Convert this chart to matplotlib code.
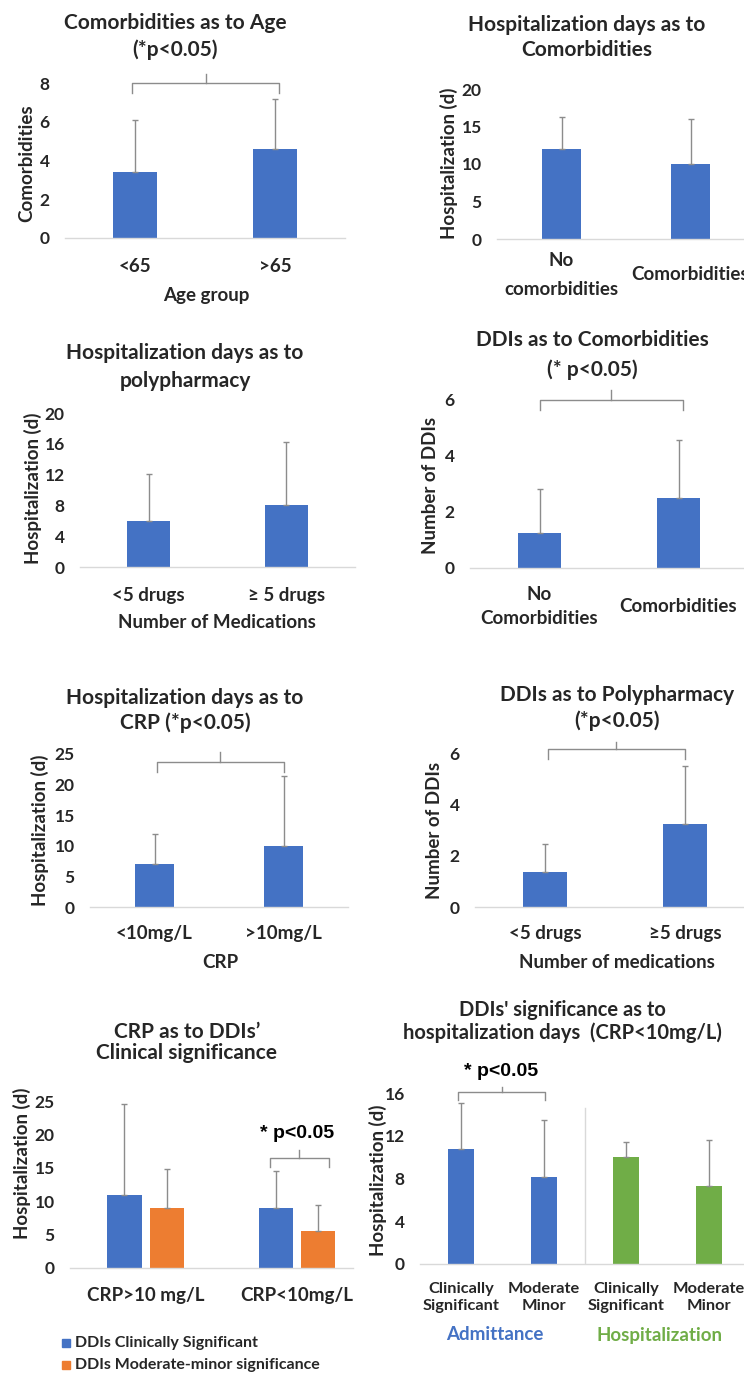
import numpy as np
import matplotlib
matplotlib.use("Agg")
import matplotlib.pyplot as plt

plt.rcParams['font.family'] = ['Lato', 'DejaVu Sans']
plt.rcParams['font.weight'] = 'bold'

BLUE = '#4472C4'
ORANGE = '#ED7D31'
GREEN = '#70AD47'
TXT = '#262626'
GRID = '#D9D9D9'
ERR = '#8C8C8C'

TITLE = 15
LAB = 13.5
TICK = 12.5

# --- data ---
age_groups = ['<65', '>65']
comorb_mean = [3.4, 4.6]
comorb_sd = [2.7, 2.6]

comorb_groups = ['No\ncomorbidities', 'Comorbidities']
hosp_comorb_mean = [12.0, 10.0]
hosp_comorb_sd = [4.3, 6.0]

drug_groups = ['<5 drugs', '≥ 5 drugs']
hosp_poly_mean = [6.0, 8.0]
hosp_poly_sd = [6.1, 8.2]

comorb_groups2 = ['No\nComorbidities', 'Comorbidities']
ddi_comorb_mean = [1.25, 2.5]
ddi_comorb_sd = [1.57, 2.07]

crp_groups = ['<10mg/L', '>10mg/L']
hosp_crp_mean = [7.0, 10.0]
hosp_crp_sd = [5.0, 11.4]

drug_groups2 = ['<5 drugs', '≥5 drugs']
ddi_poly_mean = [1.36, 3.23]
ddi_poly_sd = [1.09, 2.26]

crp_groups2 = ['CRP>10 mg/L', 'CRP<10mg/L']
clin_sig_mean = [11.0, 9.0]
clin_sig_sd = [13.6, 5.5]
mod_minor_mean = [9.0, 5.5]
mod_minor_sd = [5.8, 4.0]

sig_labels = ['Clinically\nSignificant', 'Moderate\nMinor', 'Clinically\nSignificant', 'Moderate\nMinor']
admit_mean = [10.8, 8.1]
admit_sd = [4.3, 5.4]
hospz_mean = [10.0, 7.3]
hospz_sd = [1.4, 4.3]

W, H = 744, 1374
fig = plt.figure(figsize=(W / 100, H / 100), dpi=100)


def add_ax(left, top, right, bottom):
    return fig.add_axes([left / W, 1 - bottom / H, (right - left) / W, (bottom - top) / H])


def ftext(x, y, s, size=TITLE, rot=0, color=TXT, **kw):
    fig.text(x / W, 1 - y / H, s, ha=kw.pop('ha', 'center'), va=kw.pop('va', 'center'),
             fontsize=size, rotation=rot, color=color, **kw)


def style(ax, ymax, step, xpad, xsize=LAB, ls=1.2):
    ax.set_ylim(0, ymax)
    ax.set_yticks(np.arange(0, ymax + 0.01, step))
    for s in ['top', 'right', 'left']:
        ax.spines[s].set_visible(False)
    ax.spines['bottom'].set_color(GRID)
    ax.spines['bottom'].set_linewidth(1)
    ax.tick_params(length=0, colors=TXT)
    ax.tick_params(axis='y', pad=11, labelsize=TICK)
    ax.tick_params(axis='x', pad=xpad * 0.72, labelsize=xsize)
    for lbl in ax.get_xticklabels():
        lbl.set_va('center')
        lbl.set_linespacing(ls)
    ax.patch.set_alpha(0)


def bars(ax, x, mean, sd, color, width=0.31):
    ax.bar(x, mean, width, color=color, zorder=2)
    ax.errorbar(x, mean, yerr=[np.zeros(len(sd)), sd], fmt='none', ecolor=ERR,
                elinewidth=1, capsize=2, capthick=1, zorder=3)


def bracket(ax, x0, x1, y, tip, top):
    xm = (x0 + x1) / 2
    ax.plot([x0, x0, x1, x1], [tip, y, y, tip], color=ERR, lw=1, clip_on=False)
    ax.plot([xm, xm], [y, top], color=ERR, lw=1, clip_on=False)


# panel 1: comorbidities by age
ax = add_ax(65, 83, 345, 238)
x = np.arange(len(age_groups))
bars(ax, x, comorb_mean, comorb_sd, BLUE)
ax.set_xlim(-0.5, 1.5)
ax.set_xticks(x, age_groups)
style(ax, 8, 2, 29)
bracket(ax, -0.02, 1.03, 8, 7.5, 8.45)
ftext(175, 23, 'Comorbidities as to Age')
ftext(175, 50, '(*p<0.05)')
ftext(27, 163, 'Comorbidities', size=LAB, rot=90)
ftext(206, 295, 'Age group', size=LAB)

# panel 2: hospitalization by comorbidities
ax = add_ax(497, 89, 755, 239)
x = np.arange(len(comorb_groups))
bars(ax, x, hosp_comorb_mean, hosp_comorb_sd, BLUE)
ax.set_xlim(-0.5, 1.5)
ax.set_xticks(x, comorb_groups)
style(ax, 20, 5, 36, ls=1.9)
ftext(587, 25, 'Hospitalization days as to')
ftext(587, 50, 'Comorbidities')
ftext(449, 163, 'Hospitalization (d)', size=LAB, rot=90)

# panel 3: hospitalization by polypharmacy
ax = add_ax(80, 413, 355, 567)
x = np.arange(len(drug_groups))
bars(ax, x, hosp_poly_mean, hosp_poly_sd, BLUE)
ax.set_xlim(-0.5, 1.5)
ax.set_xticks(x, drug_groups)
style(ax, 20, 4, 28)
ftext(185, 353, 'Hospitalization days as to')
ftext(185, 381, 'polypharmacy')
ftext(33, 488, 'Hospitalization (d)', size=LAB, rot=90)
ftext(217, 622, 'Number of Medications', size=LAB)

# panel 4: DDIs by comorbidities
ax = add_ax(470, 400, 748, 568)
x = np.arange(len(comorb_groups2))
bars(ax, x, ddi_comorb_mean, ddi_comorb_sd, BLUE)
ax.set_xlim(-0.5, 1.5)
ax.set_xticks(x, comorb_groups2)
style(ax, 6, 2, 38.5, ls=1.45)
bracket(ax, 0.0, 1.03, 6, 5.65, 6.36)
ftext(592, 340, 'DDIs as to Comorbidities')
ftext(592, 370, '(* p<0.05)')
ftext(430, 485, 'Number of DDIs', size=LAB, rot=90)

# panel 5: hospitalization by CRP
ax = add_ax(90, 754, 348, 907)
x = np.arange(len(crp_groups))
bars(ax, x, hosp_crp_mean, hosp_crp_sd, BLUE)
ax.set_xlim(-0.5, 1.5)
ax.set_xticks(x, crp_groups)
style(ax, 25, 5, 26)
bracket(ax, 0.02, 1.0, 23.7, 22.06, 25.3)
ftext(185, 698, 'Hospitalization days as to')
ftext(185, 723, 'CRP (*p<0.05)')
ftext(40, 830, 'Hospitalization (d)', size=LAB, rot=90)
ftext(220, 963, 'CRP', size=LAB)

# panel 6: DDIs by polypharmacy
ax = add_ax(475, 753, 755, 907)
x = np.arange(len(drug_groups2))
bars(ax, x, ddi_poly_mean, ddi_poly_sd, BLUE)
ax.set_xlim(-0.5, 1.5)
ax.set_xticks(x, drug_groups2)
style(ax, 6, 2, 27)
bracket(ax, 0.02, 1.0, 6.16, 5.77, 6.43)
ftext(617, 695, 'DDIs as to Polypharmacy')
ftext(617, 721, '(*p<0.05)')
ftext(435, 830, 'Number of DDIs', size=LAB, rot=90)
ftext(617, 963, 'Number of medications', size=LAB)

# panel 7: CRP vs DDI clinical significance
ax = add_ax(70, 1101, 353, 1268)
x = np.arange(len(crp_groups2))
bars(ax, x - 0.14, clin_sig_mean, clin_sig_sd, BLUE, width=0.225)
bars(ax, x + 0.14, mod_minor_mean, mod_minor_sd, ORANGE, width=0.225)
ax.set_xlim(-0.5, 1.37)
ax.set_xticks(x, crp_groups2)
style(ax, 25, 5, 27)
bracket(ax, 0.82, 1.21, 16.5, 15.1, 17.7)
ax.text(1.0, 20.2, '* p<0.05', ha='center', va='center', fontsize=14,
        family='Liberation Sans', color='black')
ftext(187, 1032, 'CRP as to DDIs’')
ftext(187, 1053, 'Clinical significance')
ftext(22, 1163, 'Hospitalization (d)', size=LAB, rot=90)
fig.patches.append(plt.Rectangle((62 / W, 1 - 1347 / H), 8 / W, 8 / H, color=BLUE,
                                 transform=fig.transFigure))
fig.patches.append(plt.Rectangle((62 / W, 1 - 1369 / H), 8 / W, 8 / H, color=ORANGE,
                                 transform=fig.transFigure))
ftext(75, 1343, 'DDIs Clinically Significant', size=11.5, ha='left')
ftext(75, 1365, 'DDIs Moderate-minor significance', size=11.5, ha='left')

# panel 8: DDI significance vs hospitalization days
ax = add_ax(420, 1093, 750, 1264)
x = np.arange(len(sig_labels))
bars(ax, x[:2], admit_mean, admit_sd, BLUE)
bars(ax, x[2:], hospz_mean, hospz_sd, GREEN)
ax.set_xlim(-0.5, 3.5)
ax.set_xticks(x, sig_labels)
style(ax, 16, 4, 33.5, xsize=11.8, ls=1.3)
ax.plot([1.5, 1.5], [0, 14.6], color=GRID, lw=1)
bracket(ax, -0.04, 1.02, 16.1, 15.3, 16.6)
ax.text(0.48, 18.0, '* p<0.05', ha='center', va='center', fontsize=14,
        family='Liberation Sans', color='black', clip_on=False)
ftext(562, 1010, "DDIs' significance as to", size=14.5)
ftext(562, 1033, 'hospitalization days  (CRP<10mg/L)', size=14.5)
ftext(378, 1180, 'Hospitalization (d)', size=LAB, rot=90)
ftext(495, 1335, 'Admittance', size=13.5, color=BLUE)
ftext(659, 1335, 'Hospitalization', size=13.5, color=GREEN)

fig.savefig('out.png', dpi=100)
